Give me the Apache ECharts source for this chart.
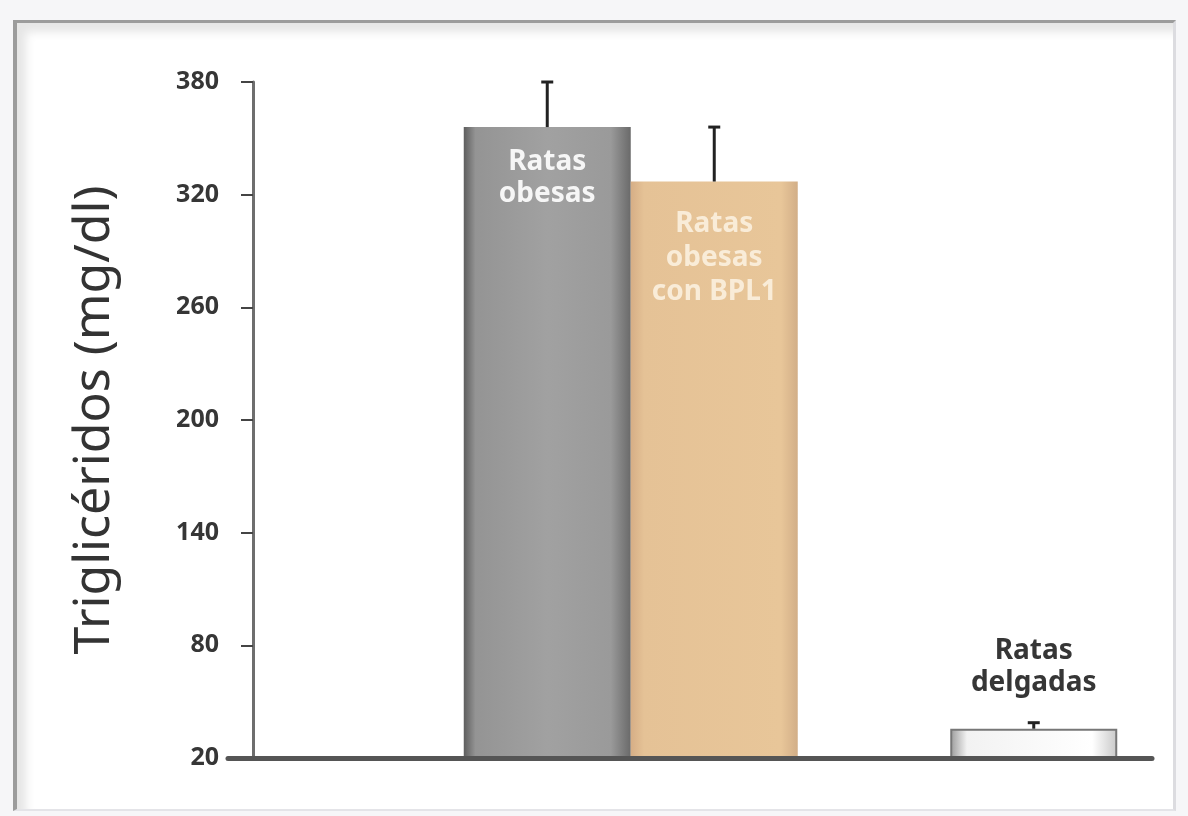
<!DOCTYPE html>
<html>
<head>
<meta charset="utf-8">
<script src="https://cdn.jsdelivr.net/npm/echarts@6/dist/echarts.min.js"></script>
<style>
  html, body { margin: 0; padding: 0; background: #f6f6f8; }
  #marco {
    position: absolute; left: 13px; top: 20px; width: 1156px; height: 786px;
    background: #fff;
    border-top: 3px solid #9c9c9c; border-left: 4px solid #9c9c9c;
    border-right: 3px solid #dcdce0; border-bottom: 2px solid #e4e4e8;
    box-shadow: inset 9px 9px 10px rgba(0,0,0,0.10);
  }
  #chart { position: absolute; left: 0; top: 0; width: 1188px; height: 816px; }
</style>
</head>
<body>
<div id="marco"></div>
<div id="chart"></div>
<script>
// datos
var grupos = ['Ratas obesas', 'Ratas obesas con BPL1', 'Ratas delgadas'];
var etiquetas = ['Ratas\nobesas', 'Ratas\nobesas\ncon BPL1', 'Ratas\ndelgadas'];
var trigliceridos = [356, 327, 35.6];
var errorSuperior = [380, 356, 38.8];
var yMin = 20;
var yMax = 380;
var yPaso = 60;

var BAR_W = 167;
var fuente = '"Noto Sans", "Open Sans", sans-serif';

var chart = echarts.init(document.getElementById('chart'), null, { renderer: 'canvas' });

var grisBarra = new echarts.graphic.LinearGradient(0, 0, 1, 0, [
  { offset: 0, color: '#5e5e5e' },
  { offset: 0.07, color: '#949494' },
  { offset: 0.5, color: '#a1a1a1' },
  { offset: 0.88, color: '#9a9a9a' },
  { offset: 1, color: '#6a6a6a' }
]);
var canelaBarra = new echarts.graphic.LinearGradient(0, 0, 1, 0, [
  { offset: 0, color: '#d6ae86' },
  { offset: 0.08, color: '#e5c296' },
  { offset: 0.9, color: '#e8c699' },
  { offset: 1, color: '#d2ae87' }
]);
var blancoBarra = new echarts.graphic.LinearGradient(0, 0, 1, 0, [
  { offset: 0, color: '#9a9a9a' },
  { offset: 0.1, color: '#f2f2f2' },
  { offset: 0.85, color: '#ffffff' },
  { offset: 1, color: '#c8c8c8' }
]);

// barras de error (solo hacia arriba); lado = -1 hueco izquierdo, 1 derecho
function errorBars(idx, cats, lado) {
  return {
    type: 'custom',
    xAxisIndex: 1,
    yAxisIndex: 1,
    z: 6,
    silent: true,
    data: idx.map(function (i, k) {
      return [cats[k], trigliceridos[i], errorSuperior[i]];
    }),
    renderItem: function (params, api) {
      var p0 = api.coord([api.value(0), api.value(1)]);
      var p1 = api.coord([api.value(0), api.value(2)]);
      var x = p0[0] + lado * BAR_W / 2;
      return {
        type: 'group',
        children: [
          { type: 'line', shape: { x1: x, y1: p0[1], x2: x, y2: p1[1] },
            style: { stroke: '#222', lineWidth: 3 } },
          { type: 'line', shape: { x1: x - 6, y1: p1[1], x2: x + 6, y2: p1[1] },
            style: { stroke: '#222', lineWidth: 3 } }
        ]
      };
    }
  };
}

chart.setOption({
  backgroundColor: 'transparent',
  animation: false,
  grid: [
    { left: 228, right: 36, top: 82, bottom: 58, outerBoundsMode: 'none' },
    { left: 387.5, width: 973, top: 82, bottom: 58, outerBoundsMode: 'none' }
  ],
  xAxis: [
    {
      gridIndex: 0,
      type: 'category',
      data: [''],
      z: 10,
      axisLine: { lineStyle: { color: '#555', width: 5 } },
      axisTick: { show: false },
      axisLabel: { show: false },
      splitLine: { show: false }
    },
    {
      gridIndex: 1,
      type: 'category',
      data: ['obesas', 'delgadas'],
      show: false
    }
  ],
  yAxis: [
    {
      gridIndex: 0,
      type: 'value',
      min: yMin,
      max: yMax,
      interval: yPaso,
      offset: -25,
      z: 9,
      name: 'Triglicéridos (mg/dl)',
      nameLocation: 'middle',
      nameGap: 133,
      nameTextStyle: { fontFamily: fuente, fontSize: 50, color: '#333' },
      axisLine: { show: true, lineStyle: { color: '#6e6e6e', width: 3 } },
      axisTick: { show: true, length: 12, lineStyle: { color: '#444', width: 2 } },
      axisLabel: { margin: 34, fontFamily: fuente, fontSize: 25, fontWeight: 'bold', color: '#363636' },
      splitLine: { show: false }
    },
    {
      gridIndex: 1,
      type: 'value',
      min: yMin,
      max: yMax,
      show: false
    }
  ],
  series: [
    {
      name: grupos[0],
      type: 'bar',
      xAxisIndex: 1,
      yAxisIndex: 1,
      barWidth: BAR_W,
      barGap: 0,
      data: [
        {
          value: trigliceridos[0],
          itemStyle: { color: grisBarra },
          label: {
            show: true, position: 'insideTop', distance: 19,
            formatter: etiquetas[0], color: '#f6f6f6',
            fontFamily: fuente, fontSize: 28, fontWeight: 'bold', lineHeight: 32
          }
        },
        {
          value: trigliceridos[2],
          itemStyle: { color: blancoBarra, borderColor: '#777', borderWidth: 2 },
          label: {
            show: true, position: 'top', distance: 30,
            formatter: etiquetas[2], color: '#363636',
            fontFamily: fuente, fontSize: 28, fontWeight: 'bold', lineHeight: 32
          }
        }
      ]
    },
    {
      name: grupos[1],
      type: 'bar',
      xAxisIndex: 1,
      yAxisIndex: 1,
      barWidth: BAR_W,
      barGap: 0,
      data: [
        {
          value: trigliceridos[1],
          itemStyle: { color: canelaBarra },
          label: {
            show: true, position: 'insideTop', distance: 26,
            formatter: etiquetas[1], color: '#f9ecd8',
            fontFamily: fuente, fontSize: 28, fontWeight: 'bold', lineHeight: 34
          }
        },
        '-'
      ]
    },
    errorBars([0, 2], [0, 1], -1),
    errorBars([1], [0], 1)
  ]
});
</script>
</body>
</html>
